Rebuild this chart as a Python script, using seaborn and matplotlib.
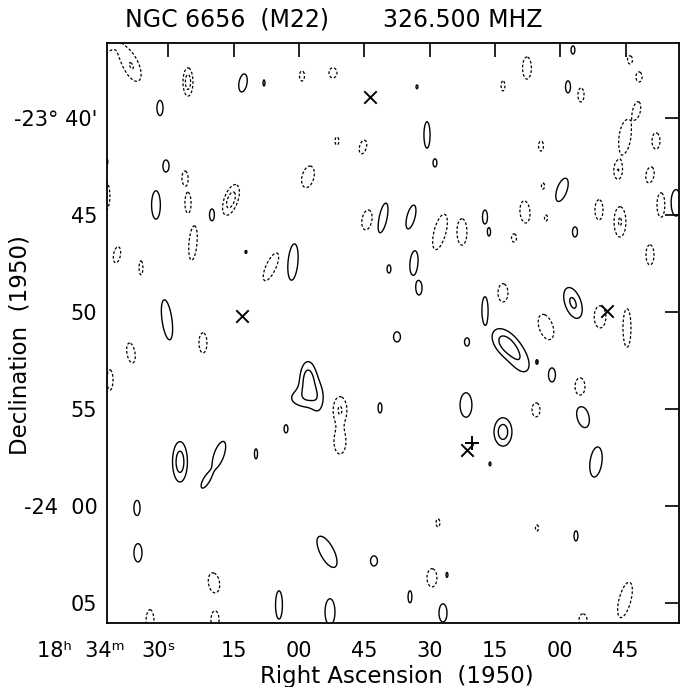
"""
NGC 6656 (M22) 326.5 MHz contour map, redrawn from the printed figure.
Sources are modelled as elliptical gaussians; solid = positive, dashed = negative.
"""

import numpy as np
import matplotlib
matplotlib.use('Agg')
import matplotlib.pyplot as plt
import matplotlib.transforms as mtrans
import seaborn as sns

# ── Source components ──────────────────────────────────────────────
# ra_s   : RA seconds after 18h32m00s (1950)
# dec_m  : arcmin south of -23d00' (1950)
# half_w : half width of the lowest contour, arcmin (across)
# half_h : half height of the lowest contour, arcmin (along)
# tilt   : degrees, top leaning right is positive
# peak   : peak in units of the contour step (negative = dashed)
ra_s = [167.98, 158.34, 145.48, 132.85, 128.03, 119.31, 112.19, 151.91, 111.28, 105.31,
        164.31, 150.53, 146.17, 164.54, 117.93, 135.61, 152.83, 145.48, 144.33, 139.97,
        104.39, 100.71, 57.10, 67.66, 44.01, 41.94, 92.91, 73.17, 58.24, 55.26,
        42.40, 90.61, 45.16, 38.04, 64.44, 88.78, 46.77, 39.42, 63.98, 59.62,
        36.89, 33.45, 94.29, 87.63, 82.58, 77.30, 76.38, 68.12, 63.29, 70.64,
        56.64, 51.13, 46.31, 161.78, 156.27, 132.17, 126.43, 121.38, 99.34, 150.30,
        142.04, 158.57, 163.39, 117.93, 119.77, 115.64, 110.59, 110.59, 101.40, 122.98,
        93.60, 92.45, 73.17, 57.10, 50.90, 44.70, 39.42, 77.30, 63.29, 97.50,
        81.43, 72.71, 69.27, 65.36, 61.92, 55.49, 81.66, 65.59, 54.80, 73.17,
        76.15, 51.82, 147.32, 138.36, 141.35, 129.87, 157.19, 156.96, 113.57, 102.78,
        139.51, 154.20, 139.28, 124.59, 112.88, 88.09, 65.36, 56.41, 89.47, 86.02,
        94.52, 86.94, 54.80, 45.16]
dec_m = [35.48, 37.38, 38.16, 38.21, 38.21, 37.85, 37.69, 39.50, 41.20, 41.51,
         42.28, 42.49, 43.11, 44.03, 43.05, 44.24, 44.50, 44.39, 46.46, 45.01,
         45.27, 45.17, 36.51, 37.44, 37.02, 37.90, 38.41, 38.36, 38.41, 38.83,
         39.60, 40.89, 40.99, 41.20, 41.46, 42.33, 42.74, 42.95, 43.52, 43.72,
         44.50, 44.39, 45.12, 45.89, 45.89, 45.12, 45.89, 44.86, 45.17, 46.20,
         45.89, 44.75, 45.37, 47.07, 47.74, 46.92, 47.69, 47.44, 47.80, 50.42,
         51.61, 52.13, 53.52, 53.52, 54.45, 54.45, 55.06, 56.71, 54.96, 56.04,
         47.49, 48.78, 49.03, 49.55, 50.27, 50.84, 47.07, 49.91, 50.79, 51.30,
         51.56, 51.61, 52.49, 52.59, 53.26, 53.88, 54.81, 55.06, 55.42, 56.20,
         57.85, 57.75, 57.74, 57.38, 58.72, 57.33, 60.12, 62.43, 62.38, 62.85,
         63.98, 65.99, 65.89, 65.12, 65.48, 60.89, 61.15, 61.56, 63.72, 63.57,
         64.70, 65.53, 65.89, 64.86]
half_w = [1.46, 0.36, 0.26, 0.21, 0.05, 0.13, 0.21, 0.16, 0.10, 0.18,
          0.10, 0.16, 0.16, 0.26, 0.31, 0.36, 0.23, 0.16, 0.21, 0.13,
          0.26, 0.21, 0.10, 0.23, 0.13, 0.16, 0.05, 0.10, 0.13, 0.16,
          0.18, 0.16, 0.31, 0.21, 0.13, 0.10, 0.21, 0.21, 0.08, 0.26,
          0.21, 0.26, 0.21, 0.31, 0.26, 0.13, 0.08, 0.26, 0.08, 0.13,
          0.13, 0.21, 0.31, 0.18, 0.10, 0.05, 0.26, 0.26, 0.10, 0.26,
          0.21, 0.21, 0.16, 0.42, 0.42, 0.21, 0.36, 0.31, 0.10, 0.10,
          0.21, 0.16, 0.26, 0.42, 0.31, 0.21, 0.21, 0.16, 0.36, 0.18,
          0.13, 0.52, 0.36, 0.05, 0.18, 0.26, 0.31, 0.21, 0.31, 0.47,
          0.05, 0.31, 0.39, 0.26, 0.16, 0.08, 0.16, 0.21, 0.36, 0.18,
          0.29, 0.21, 0.21, 0.18, 0.26, 0.10, 0.08, 0.10, 0.26, 0.05,
          0.10, 0.21, 0.21, 0.31]
half_h = [1.46, 0.78, 0.73, 0.47, 0.16, 0.26, 0.26, 0.39, 0.21, 0.36,
          0.21, 0.31, 0.36, 0.78, 0.57, 0.83, 0.73, 0.52, 0.89, 0.31,
          0.52, 0.78, 0.21, 0.57, 0.21, 0.26, 0.10, 0.26, 0.31, 0.36,
          0.42, 0.68, 0.89, 0.42, 0.26, 0.21, 0.42, 0.42, 0.16, 0.63,
          0.63, 0.68, 0.63, 0.94, 0.68, 0.36, 0.21, 0.57, 0.16, 0.21,
          0.26, 0.52, 0.78, 0.42, 0.36, 0.08, 0.78, 0.94, 0.21, 1.04,
          0.52, 0.52, 0.52, 0.94, 0.31, 0.52, 0.68, 0.63, 0.26, 0.21,
          0.63, 0.36, 0.47, 0.83, 0.57, 0.99, 0.52, 0.68, 0.68, 0.26,
          0.21, 0.83, 0.63, 0.10, 0.36, 0.47, 0.63, 0.36, 0.57, 0.73,
          0.10, 0.78, 1.04, 0.73, 0.42, 0.26, 0.39, 0.47, 0.89, 0.26,
          0.52, 0.63, 0.47, 0.73, 0.68, 0.21, 0.16, 0.26, 0.47, 0.13,
          0.31, 0.47, 0.31, 0.94]
tilt = [0, -25, 0, 10, 0, 0, 0, 0, 0, 15,
        0, 0, 0, 0, 15, 20, 0, 0, 5, 0,
        10, 12, 0, 0, 0, 0, 0, 0, 0, 0,
        10, 0, 8, 0, 0, 0, 0, 10, 0, 20,
        0, 0, 15, 15, 0, 0, 0, -5, 0, 0,
        0, 0, 0, 10, 0, 0, 25, 5, 0, -8,
        0, -10, 0, 0, 0, 0, 0, 0, 0, 0,
        5, 0, 0, -20, 0, 0, 0, 0, -20, 0,
        0, -40, -30, 0, 0, 0, 0, 0, -15, 0,
        0, 8, 0, 20, 30, 0, 0, 0, -28, 0,
        -10, 0, 0, 0, 0, 0, 0, 0, 0, 0,
        0, 0, 0, 15]
peak = [-1.9, -1.9, -2.6, 1.9, 1.9, -1.9, -1.9, 1.9, -1.9, -1.9,
        1.9, 1.9, -1.9, -1.9, -1.9, -2.6, 1.9, -1.9, -1.9, 1.9,
        -1.9, 1.9, 1.9, -1.9, -1.9, -1.9, 1.9, -1.9, 1.9, -1.9,
        -1.9, 1.9, -1.9, -1.9, -1.9, 1.9, -1.9, -1.9, -1.9, 1.9,
        -1.9, 1.9, 1.9, -1.9, -1.9, 1.9, 1.9, -1.9, -1.9, -1.9,
        1.9, -1.9, -2.1, -1.9, -1.9, 1.9, -1.9, 1.9, 1.9, 1.9,
        -1.9, -1.9, -1.9, 2.6, 1.3, 1.3, -2.1, -1.9, 1.9, 1.9,
        1.9, 1.9, -1.9, 2.2, -1.9, -1.9, -1.9, 1.9, -1.9, 1.9,
        1.9, 2.3, 1.5, 1.9, 1.9, -1.9, 1.9, -1.9, 1.9, 2.6,
        1.9, 1.9, 2.6, 1.9, 1.9, 1.9, 1.9, 1.9, 1.9, 1.9,
        -1.9, -1.9, -1.9, 1.9, 1.9, -1.9, -1.9, 1.9, -1.9, 1.9,
        1.9, 1.9, -1.9, -1.9]

# optical / catalogue positions marked on the map
cross_ra = [103.70, 133.08, 49.29, 81.43]
cross_dec = [38.93, 50.22, 49.96, 57.13]
plus_ra = [80.28]
plus_dec = [56.77]

ra_ticks = [150, 135, 120, 105, 90, 75, 60, 45]
ra_labels = ['30\u02e2', '15', '00', '45', '30', '15', '00', '45']
dec_ticks = [40, 45, 50, 55, 60, 65]
dec_labels = ["-23\u00b0 40'", '45', '50', '55', '-24  00', '05']

RA_LIM = (164.07, 32.76)
DEC_LIM = (66.05, 36.15)

# ── Build the model map ────────────────────────────────────────────
RA, DEC = np.meshgrid(np.linspace(26, 171, 1000), np.linspace(33, 68, 1000))
field = np.zeros_like(RA)
for r0, d0, a, b, t, p in zip(ra_s, dec_m, half_w, half_h, tilt, peak):
    e = -(RA - r0) * 0.2286          # seconds of RA -> arcmin at dec -24
    n = -(DEC - d0)
    th = np.radians(t)
    v = e * np.sin(th) + n * np.cos(th)
    u = e * np.cos(th) - n * np.sin(th)
    k = np.sqrt(2 * np.log(abs(p)))
    field += p * np.exp(-0.5 * ((u * k / a) ** 2 + (v * k / b) ** 2))

# ── Plot ───────────────────────────────────────────────────────────
sns.set_style('white')
plt.rcParams['font.family'] = ['DejaVu Sans']
plt.rcParams['text.color'] = 'black'

fig = plt.figure(figsize=(6.81, 6.87), dpi=100)
ax = fig.add_axes([107 / 681, 64 / 687, 572 / 681, 580 / 687])

ax.contour(RA, DEC, field, levels=[1, 2], colors='black',
           linewidths=1.0, linestyles='solid')
ax.contour(RA, DEC, field, levels=[-2, -1], colors='black',
           linewidths=0.9, linestyles=[(0, (2.2, 1.6))])

sns.scatterplot(x=cross_ra, y=cross_dec, marker='x', s=80, color='black',
                linewidth=1.4, ax=ax, zorder=5)
sns.scatterplot(x=plus_ra, y=plus_dec, marker='+', s=110, color='black',
                linewidth=1.4, ax=ax, zorder=5)

ax.set_xlim(*RA_LIM)
ax.set_ylim(*DEC_LIM)
ax.set_xticks(ra_ticks)
ax.set_xticklabels(ra_labels)
ax.set_yticks(dec_ticks)
ax.set_yticklabels(dec_labels)
ax.tick_params(axis='both', direction='in', length=10, width=1.2,
               top=True, right=True, labelsize=15, colors='black')
ax.tick_params(axis='x', pad=13)
ax.tick_params(axis='y', pad=7)
for spine in ax.spines.values():
    spine.set_linewidth(1.3)
    spine.set_color('black')

# the first RA label carries the seconds sign and sits a bit left of its tick
first = ax.get_xticklabels()[0]
first.set_transform(first.get_transform()
                    + mtrans.ScaledTranslation(-10 / 100, 0, fig.dpi_scale_trans))

fig.text(37 / 681, 1 - 641 / 687, '18\u02b0  34\u1d50', fontsize=15,
         ha='left', va='top')
fig.text(397 / 681, 1 - 676 / 687, 'Right Ascension  (1950)', fontsize=16.5,
         ha='center', va='center')
fig.text(20 / 681, 1 - 345 / 687, 'Declination  (1950)', fontsize=16.5,
         ha='center', va='center', rotation=90)
fig.text(125 / 681, 1 - 20 / 687, 'NGC 6656  (M22)', fontsize=17,
         ha='left', va='center')
fig.text(383 / 681, 1 - 20 / 687, '326.500 MHZ', fontsize=17,
         ha='left', va='center')

fig.savefig('out.png', dpi=100, facecolor='white')
